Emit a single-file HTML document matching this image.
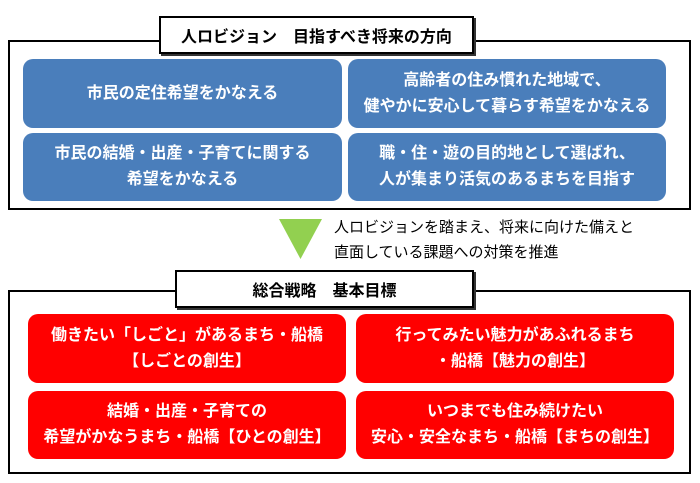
<!DOCTYPE html>
<html><head><meta charset="utf-8"><style>
body{margin:0;width:700px;height:483px;background:#fff;position:relative;overflow:hidden;font-family:"Liberation Sans","Noto Sans CJK JP",sans-serif}
.a{position:absolute;box-sizing:border-box}
.outer{border:2px solid #000;background:#fff}
.title{border:2px solid #000;background:#fff;font-weight:bold;font-size:16px;display:flex;align-items:center;justify-content:center;box-shadow:2px 2px 0 #333}
.b{border-radius:10px;color:#fff;font-weight:bold;font-size:16px;display:flex;align-items:center;justify-content:center;text-align:center;line-height:26px}
.blue{background:#4a7ebb}
.red{background:#ff0000}
.t{font-size:15px;line-height:25px;color:#000}
</style></head><body>
<div class="a outer" style="left:8px;top:40px;width:683px;height:170px"></div>
<div class="a title" style="left:159px;top:16px;width:315px;height:38px">人ロビジョン　目指すべき将来の方向</div>
<div class="a b blue" style="left:23px;top:59px;width:319px;height:69px">市民の定住希望をかなえる</div>
<div class="a b blue" style="left:348px;top:59px;width:318px;height:69px">高齢者の住み慣れた地域で、<br>健やかに安心して暮らす希望をかなえる</div>
<div class="a b blue" style="left:23px;top:133px;width:319px;height:68px">市民の結婚・出産・子育てに関する<br>希望をかなえる</div>
<div class="a b blue" style="left:348px;top:133px;width:318px;height:68px">職・住・遊の目的地として選ばれ、<br>人が集まり活気のあるまちを目指す</div>
<svg class="a" style="left:279px;top:219px" width="44" height="41"><polygon points="0,0 43,0 21.5,40" fill="#92d050"/></svg>
<div class="a t" style="left:334px;top:215px">人ロビジョンを踏まえ、将来に向けた備えと<br>直面している課題への対策を推進</div>
<div class="a outer" style="left:8px;top:290px;width:683px;height:184px"></div>
<div class="a title" style="left:175px;top:270px;width:299px;height:38px">総合戦略　基本目標</div>
<div class="a b red" style="left:28px;top:314px;width:318px;height:69px">働きたい「しごと」があるまち・船橋<br>【しごとの創生】</div>
<div class="a b red" style="left:356px;top:314px;width:318px;height:69px">行ってみたい魅力があふれるまち<br>・船橋【魅力の創生】</div>
<div class="a b red" style="left:28px;top:391px;width:318px;height:68px">結婚・出産・子育ての<br>希望がかなうまち・船橋【ひとの創生】</div>
<div class="a b red" style="left:356px;top:391px;width:318px;height:68px">いつまでも住み続けたい<br>安心・安全なまち・船橋【まちの創生】</div>
</body></html>
